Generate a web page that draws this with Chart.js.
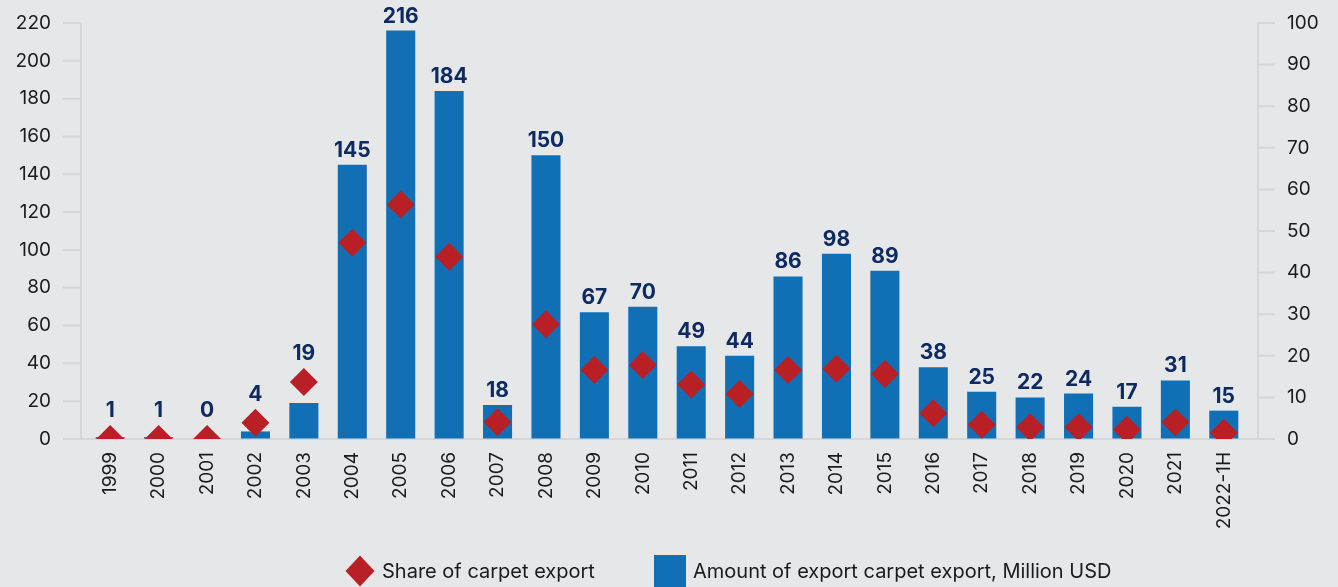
<!DOCTYPE html>
<html>
<head>
<meta charset="utf-8">
<title>Carpet export</title>
<script src="https://cdn.jsdelivr.net/npm/chart.js@4.4.0/dist/chart.umd.min.js"></script>
<style>
  html, body { margin: 0; padding: 0; background: #e6e7e9; }
  canvas { display: block; }
</style>
</head>
<body>
<canvas id="carpet" width="1338" height="587"></canvas>
<script>
// data
var years = ["1999", "2000", "2001", "2002", "2003", "2004", "2005", "2006", "2007", "2008", "2009", "2010",
             "2011", "2012", "2013", "2014", "2015", "2016", "2017", "2018", "2019", "2020", "2021", "2022-1H"];
var exportAmount = [1, 1, 0, 4, 19, 145, 216, 184, 18, 150, 67, 70, 49, 44, 86, 98, 89, 38, 25, 22, 24, 17, 31, 15];
var exportShare = [0, 0, 0, 3.9, 13.7, 47.2, 56.4, 43.8, 4.0, 27.6, 16.6, 17.8, 13.1, 10.8, 16.6, 16.9, 15.6,
                   6.2, 3.4, 2.8, 2.8, 2.2, 4.0, 1.5];
var amountMax = 220, amountStep = 20;
var shareMax = 100, shareStep = 10;

var FONT = "Inter";
var BLUE = "#116fb6";
var RED = "#b82025";
var NAVY = "#0e2a62";
var INK = "#1b1b1b";
var LINE = "#d5d6d8";
var HIDDEN = "rgba(0,0,0,0)";

// axis lines + tick marks, set a bit off the plot area like the original
var axisFrame = {
  id: "axisFrame",
  beforeDatasetsDraw: function (chart) {
    var ctx = chart.ctx, a = chart.chartArea;
    var yl = chart.scales.y, yr = chart.scales.y2;
    var lx = a.left - 5, rx = a.right + 10;
    ctx.save();
    ctx.strokeStyle = LINE;
    ctx.lineWidth = 2;
    ctx.beginPath();
    ctx.moveTo(lx, a.top); ctx.lineTo(lx, a.bottom);
    ctx.moveTo(rx, a.top); ctx.lineTo(rx, a.bottom);
    yl.ticks.forEach(function (t) {
      var py = yl.getPixelForValue(t.value);
      ctx.moveTo(lx - 18, py); ctx.lineTo(lx, py);
    });
    yr.ticks.forEach(function (t) {
      var py = yr.getPixelForValue(t.value);
      ctx.moveTo(rx, py); ctx.lineTo(rx + 17, py);
    });
    ctx.moveTo(lx - 18, a.bottom); ctx.lineTo(rx + 17, a.bottom);
    ctx.stroke();
    ctx.restore();
  }
};

// value labels above bars (or above the diamond when it sits higher)
var valueLabels = {
  id: "valueLabels",
  afterDatasetsDraw: function (chart) {
    var ctx = chart.ctx;
    var pts = chart.getDatasetMeta(0).data;
    var bars = chart.getDatasetMeta(1).data;
    ctx.save();
    ctx.font = "bold 21px " + FONT;
    ctx.fillStyle = NAVY;
    ctx.textAlign = "center";
    ctx.textBaseline = "alphabetic";
    bars.forEach(function (bar, i) {
      var top = Math.min(bar.y, pts[i].y - pts[i].options.radius);
      ctx.fillText(String(exportAmount[i]), bar.x, top - 8);
    });
    ctx.restore();
  }
};

// legend at the bottom, laid out like the original
var bottomLegend = {
  id: "bottomLegend",
  afterDraw: function (chart) {
    var ctx = chart.ctx;
    var ds = chart.data.datasets;
    var cy = chart.height - 16;
    ctx.save();
    ctx.font = "20px " + FONT;
    ctx.fillStyle = INK;
    ctx.textAlign = "left";
    ctx.textBaseline = "middle";

    // diamond for the share series
    var dx = 360;
    ctx.fillStyle = ds[0].pointBackgroundColor;
    ctx.beginPath();
    ctx.moveTo(dx, cy - 15.5); ctx.lineTo(dx + 14.5, cy); ctx.lineTo(dx, cy + 15.5); ctx.lineTo(dx - 14.5, cy);
    ctx.closePath(); ctx.fill();
    ctx.fillStyle = INK;
    ctx.fillText(ds[0].label, dx + 22, cy + 1);

    // square for the amount series
    var sx = 654;
    ctx.fillStyle = ds[1].backgroundColor;
    ctx.fillRect(sx, cy - 16, 32, 32);
    ctx.fillStyle = INK;
    ctx.fillText(ds[1].label, sx + 39, cy + 1);
    ctx.restore();
  }
};

var chart = new Chart(document.getElementById("carpet"), {
  data: {
    labels: years,
    datasets: [
      {
        type: "line",
        label: "Share of carpet export",
        data: exportShare,
        yAxisID: "y2",
        showLine: false,
        pointStyle: "rectRot",
        pointRadius: 14,
        pointBackgroundColor: RED,
        pointBorderWidth: 0,
        order: 0
      },
      {
        type: "bar",
        label: "Amount of export carpet export, Million USD",
        data: exportAmount,
        yAxisID: "y",
        backgroundColor: BLUE,
        barPercentage: 0.6,
        categoryPercentage: 1.0,
        order: 1
      }
    ]
  },
  options: {
    responsive: false,
    animation: false,
    devicePixelRatio: 1,
    layout: { padding: { top: 23, bottom: 41, left: 0, right: 0 } },
    plugins: {
      tooltip: { enabled: false },
      legend: { display: false }
    },
    scales: {
      x: {
        grid: { color: HIDDEN, drawOnChartArea: false, drawTicks: true, tickLength: 8 },
        border: { display: false },
        ticks: { minRotation: 90, maxRotation: 90, padding: 5, color: INK, font: { family: FONT, size: 19 } },
        afterFit: function (s) { s.height = 107; }
      },
      y: {
        position: "left",
        min: 0, max: amountMax,
        grid: { color: HIDDEN, drawOnChartArea: false, drawTicks: true, tickLength: 30 },
        border: { display: false },
        ticks: { stepSize: amountStep, padding: 5, color: INK, font: { family: FONT, size: 19 } },
        afterFit: function (s) { s.width = 86; }
      },
      y2: {
        position: "right",
        min: 0, max: shareMax,
        grid: { color: HIDDEN, drawOnChartArea: false, drawTicks: true, tickLength: 34 },
        border: { display: false },
        ticks: { stepSize: shareStep, padding: 5, color: INK, font: { family: FONT, size: 19 } },
        afterFit: function (s) { s.width = 90; }
      }
    }
  },
  plugins: [axisFrame, valueLabels, bottomLegend]
});
</script>
</body>
</html>
